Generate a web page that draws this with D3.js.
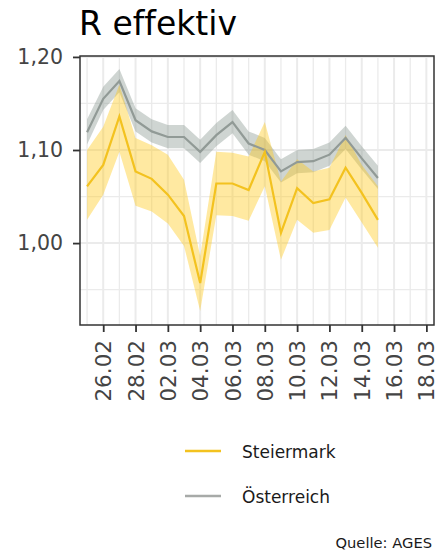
<!DOCTYPE html>
<html>
<head>
<meta charset="utf-8">
<script src="https://cdn.jsdelivr.net/npm/d3@7"></script>
<style>
  body { margin: 0; background: #fff; }
  svg { display: block; font-family: "DejaVu Sans", sans-serif; font-variant-ligatures: none; }
</style>
</head>
<body>
<svg id="chart" width="438" height="557"></svg>
<script>
// dates 25.02.2021 - 15.03.2021
var dates = ['2021-02-25', '2021-02-26', '2021-02-27', '2021-02-28', '2021-03-01', '2021-03-02',
  '2021-03-03', '2021-03-04', '2021-03-05', '2021-03-06', '2021-03-07', '2021-03-08', '2021-03-09',
  '2021-03-10', '2021-03-11', '2021-03-12', '2021-03-13', '2021-03-14', '2021-03-15']

var stmk = [1.061, 1.084, 1.136, 1.077, 1.069, 1.052, 1.029, 0.957, 1.064, 1.064,
  1.057, 1.098, 1.011, 1.059, 1.043, 1.047, 1.081, 1.054, 1.025]
var stmkLo = [1.025, 1.052, 1.098, 1.040, 1.034, 1.021, 0.997, 0.927, 1.030, 1.029,
  1.024, 1.061, 0.982, 1.025, 1.011, 1.014, 1.049, 1.022, 0.995]
var stmkHi = [1.100, 1.125, 1.170, 1.113, 1.105, 1.095, 1.068, 0.986, 1.098, 1.097,
  1.093, 1.130, 1.066, 1.090, 1.077, 1.081, 1.116, 1.084, 1.061]

var oe = [1.119, 1.155, 1.174, 1.132, 1.120, 1.114, 1.114, 1.098, 1.116, 1.130,
  1.107, 1.100, 1.077, 1.087, 1.088, 1.095, 1.113, 1.091, 1.070]
var oeLo = [1.106, 1.143, 1.162, 1.120, 1.108, 1.102, 1.102, 1.086, 1.104, 1.118,
  1.095, 1.088, 1.065, 1.075, 1.076, 1.083, 1.101, 1.079, 1.058]
var oeHi = [1.133, 1.168, 1.187, 1.145, 1.133, 1.127, 1.127, 1.111, 1.129, 1.143,
  1.120, 1.113, 1.090, 1.100, 1.101, 1.108, 1.126, 1.104, 1.083]

var yTicks = [1.00, 1.10, 1.20]
var yMinor = [0.95, 1.05, 1.15]
var xTickLabels = ['26.02', '28.02', '02.03', '04.03', '06.03', '08.03', '10.03', '12.03', '14.03', '16.03', '18.03']

;(function (d3) {
  var parse = d3.timeParse('%Y-%m-%d')
  var fmt = d3.timeFormat('%d.%m')

  var svg = d3.select('#chart')
  var pl = 80, pr = 434, pt = 56, pb = 325

  var x = d3.scaleTime()
    .domain([new Date(2021, 1, 24, 13, 30), new Date(2021, 2, 18, 11, 20)])
    .range([pl, pr])
  var y = d3.scaleLinear()
    .domain([0.912, 1.201])
    .range([pb, pt])

  var tickDates = d3.timeDay.range(new Date(2021, 1, 26), new Date(2021, 2, 19), 2)
  var allDays = d3.timeDay.range(new Date(2021, 1, 25), new Date(2021, 2, 19), 1)

  // grid
  var grid = svg.append('g')
  grid.selectAll('.hmin').data(yMinor).enter().append('line')
    .attr('x1', pl).attr('x2', pr)
    .attr('y1', function (d) { return y(d) }).attr('y2', function (d) { return y(d) })
    .attr('stroke', '#ebebeb').attr('stroke-width', 1.2)
  grid.selectAll('.hmaj').data(yTicks).enter().append('line')
    .attr('x1', pl).attr('x2', pr)
    .attr('y1', function (d) { return y(d) }).attr('y2', function (d) { return y(d) })
    .attr('stroke', '#ebebeb').attr('stroke-width', 2)
  grid.selectAll('.v').data(allDays).enter().append('line')
    .attr('x1', function (d) { return x(d) }).attr('x2', function (d) { return x(d) })
    .attr('y1', pt).attr('y2', pb)
    .attr('stroke', '#ebebeb')
    .attr('stroke-width', function (d, i) { return i % 2 ? 2 : 1.3 })

  var rows = dates.map(function (d, i) {
    return {date: parse(d), s: stmk[i], sLo: stmkLo[i], sHi: stmkHi[i], o: oe[i], oLo: oeLo[i], oHi: oeHi[i]}
  })

  function band (lo, hi) {
    return d3.area()
      .x(function (d) { return x(d.date) })
      .y0(function (d) { return y(d[lo]) })
      .y1(function (d) { return y(d[hi]) })
  }
  function line (k) {
    return d3.line()
      .x(function (d) { return x(d.date) })
      .y(function (d) { return y(d[k]) })
  }

  var plot = svg.append('g')
  plot.append('path').datum(rows).attr('d', band('oLo', 'oHi'))
    .attr('fill', '#8c9a93').attr('fill-opacity', 0.42)
  plot.append('path').datum(rows).attr('d', band('sLo', 'sHi'))
    .attr('fill', '#ffc814').attr('fill-opacity', 0.4)
  plot.append('path').datum(rows).attr('d', line('o'))
    .attr('fill', 'none').attr('stroke', '#919a96').attr('stroke-width', 2.2)
  plot.append('path').datum(rows).attr('d', line('s'))
    .attr('fill', 'none').attr('stroke', '#f3c21f').attr('stroke-width', 2.2)

  // panel border
  svg.append('rect')
    .attr('x', pl).attr('y', pt)
    .attr('width', pr - pl).attr('height', pb - pt)
    .attr('fill', 'none').attr('stroke', '#333').attr('stroke-width', 1.5)

  // axes
  var yAxis = svg.append('g')
    .attr('transform', 'translate(' + pl + ',0)')
    .call(d3.axisLeft(y).tickValues(yTicks).tickSize(7).tickPadding(10)
      .tickFormat(function (d) { return d3.format('.2f')(d).replace('.', ',') }))
  yAxis.select('.domain').remove()
  yAxis.selectAll('line').attr('stroke', '#333').attr('stroke-width', 1.8)
  yAxis.selectAll('text').attr('font-size', 20.5).attr('fill', '#444')
    .attr('font-family', 'DejaVu Sans, sans-serif')

  var xAxis = svg.append('g')
    .attr('transform', 'translate(0,' + pb + ')')
    .call(d3.axisBottom(x).tickValues(tickDates).tickSize(7).tickFormat(fmt))
  xAxis.select('.domain').remove()
  xAxis.selectAll('line').attr('stroke', '#333').attr('stroke-width', 1.8)
  xAxis.selectAll('text')
    .text(function (d, i) { return xTickLabels[i] })
    .attr('font-size', 21.5).attr('fill', '#444')
    .attr('font-family', 'DejaVu Sans, sans-serif')
    .attr('transform', 'rotate(-90)')
    .attr('x', -15).attr('y', 0).attr('dy', '0.35em')
    .attr('text-anchor', 'end')

  // title
  svg.append('text').attr('x', 79).attr('y', 35)
    .attr('font-size', 33).attr('fill', '#000')
    .text('R effektiv')

  // legend
  var legend = [{name: 'Steiermark', color: '#f3c21f'}, {name: 'Österreich', color: '#a7aaa8'}]
  var lg = svg.selectAll('.lg').data(legend).enter().append('g')
    .attr('transform', function (d, i) { return 'translate(0,' + (451 + i * 45) + ')' })
  lg.append('line').attr('x1', 185).attr('x2', 221)
    .attr('stroke', function (d) { return d.color }).attr('stroke-width', 2.5)
  lg.append('text').attr('x', 242).attr('y', 7)
    .attr('font-size', 17).attr('fill', '#1a1a1a')
    .text(function (d) { return d.name })

  svg.append('text').attr('x', 432).attr('y', 548)
    .attr('text-anchor', 'end').attr('font-size', 14.7).attr('fill', '#1a1a1a')
    .text('Quelle: AGES')
})(window.d3)
</script>
</body>
</html>
